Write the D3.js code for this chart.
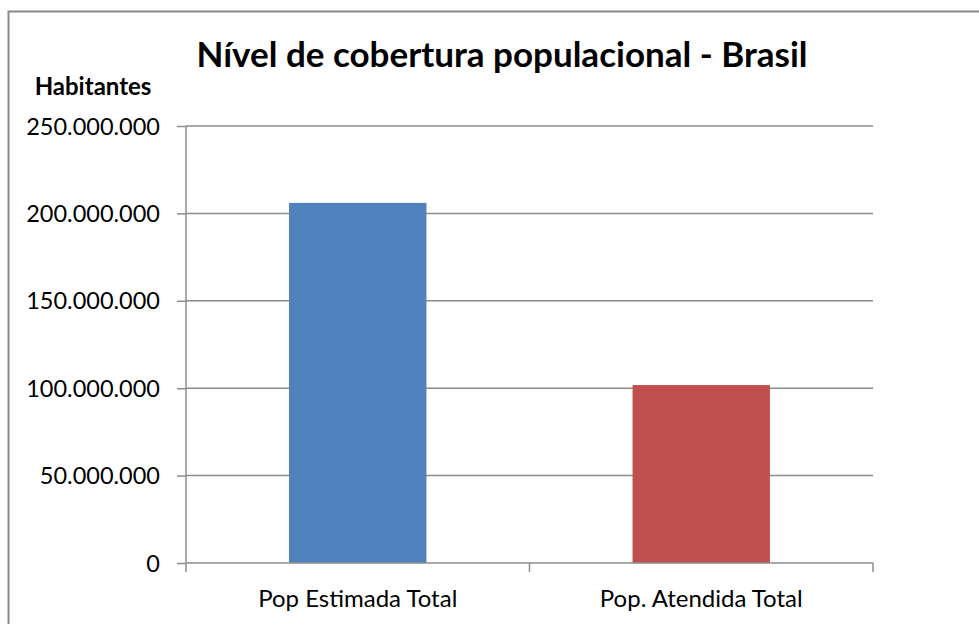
<!DOCTYPE html>
<html>
<head>
<meta charset="utf-8">
<script src="https://cdn.jsdelivr.net/npm/d3@7"></script>
<style>
    body { margin: 0; background: #fff; }
    svg { display: block; font-family: Lato, "Open Sans", sans-serif; }
</style>
</head>
<body>
<div id="chart"></div>
<script>
var categories = ['Pop Estimada Total', 'Pop. Atendida Total'];
var values = [206000000, 101800000];
var barColors = ['#4F81BD', '#C0504D'];
var yTicks = [0, 50000000, 100000000, 150000000, 200000000, 250000000];

var W = 979, H = 624;
var margin = {top: 126, right: 106, bottom: 61, left: 186},
    width = W - margin.left - margin.right,
    height = H - margin.top - margin.bottom;

var svg = d3.select('#chart')
    .append('svg')
    .attr('width', W)
    .attr('height', H);

// chart area border (runs off the right/bottom of the picture)
svg.append('rect')
    .attr('x', 8.5)
    .attr('y', 11.5)
    .attr('width', W + 10)
    .attr('height', H + 10)
    .attr('fill', 'none')
    .attr('stroke', '#888')
    .attr('stroke-width', 2);

var g = svg.append('g')
    .attr('transform', 'translate(' + margin.left + ',' + margin.top + ')');

var x = d3.scaleBand().domain(categories).range([0, width]);
var y = d3.scaleLinear().domain([0, 250000000]).range([height, 0]);

var fmt = function (d) {
    return d3.format(',')(d).replace(/,/g, '.');
};

// gridlines
g.selectAll('.grid')
    .data(yTicks.slice(1))
    .enter().append('line')
    .attr('class', 'grid')
    .attr('x1', 0)
    .attr('x2', width)
    .attr('y1', function (d) { return y(d); })
    .attr('y2', function (d) { return y(d); })
    .attr('stroke', '#8c8c8c')
    .attr('stroke-width', 1.5);

// bars: Excel gap width 150%
var barW = x.bandwidth() / 2.5;
g.selectAll('.bar')
    .data(values)
    .enter().append('rect')
    .attr('class', 'bar')
    .attr('x', function (d, i) { return x(categories[i]) + (x.bandwidth() - barW) / 2; })
    .attr('width', barW)
    .attr('y', function (d) { return y(d); })
    .attr('height', function (d) { return height - y(d); })
    .attr('fill', function (d, i) { return barColors[i]; });

// Y axis
var yAxis = g.append('g')
    .call(d3.axisLeft(y).tickValues(yTicks).tickFormat(fmt).tickSize(9).tickPadding(17));
yAxis.selectAll('line, path').attr('stroke', '#8c8c8c').attr('stroke-width', 1.5);
yAxis.select('.domain').attr('d', 'M0,' + height + 'V0');
yAxis.selectAll('text')
    .attr('fill', '#000')
    .attr('dy', '0.34em')
    .style('font-size', '23.5px')
    .style('font-family', 'Lato, sans-serif');

// X axis with ticks at category boundaries
var xAxis = g.append('g')
    .attr('transform', 'translate(0,' + height + ')');
xAxis.append('line')
    .attr('x1', 0).attr('x2', width)
    .attr('stroke', '#8c8c8c').attr('stroke-width', 1.5);
xAxis.selectAll('.xtick')
    .data([0, 1, 2])
    .enter().append('line')
    .attr('class', 'xtick')
    .attr('x1', function (d) { return d * x.step(); })
    .attr('x2', function (d) { return d * x.step(); })
    .attr('y1', 0).attr('y2', 9)
    .attr('stroke', '#8c8c8c').attr('stroke-width', 1.5);
xAxis.selectAll('.xlabel')
    .data(categories)
    .enter().append('text')
    .attr('class', 'xlabel')
    .attr('x', function (d) { return x(d) + x.bandwidth() / 2; })
    .attr('y', 44)
    .attr('text-anchor', 'middle')
    .style('font-size', '24px')
    .text(function (d) { return d; });

// title
svg.append('text')
    .attr('x', 502)
    .attr('y', 67)
    .attr('text-anchor', 'middle')
    .style('font-size', '35px')
    .style('font-weight', 'bold')
    .text('Nível de cobertura populacional - Brasil');

svg.append('text')
    .attr('x', 93)
    .attr('y', 95)
    .attr('text-anchor', 'middle')
    .style('font-size', '24px')
    .style('font-weight', 'bold')
    .text('Habitantes');
</script>
</body>
</html>
